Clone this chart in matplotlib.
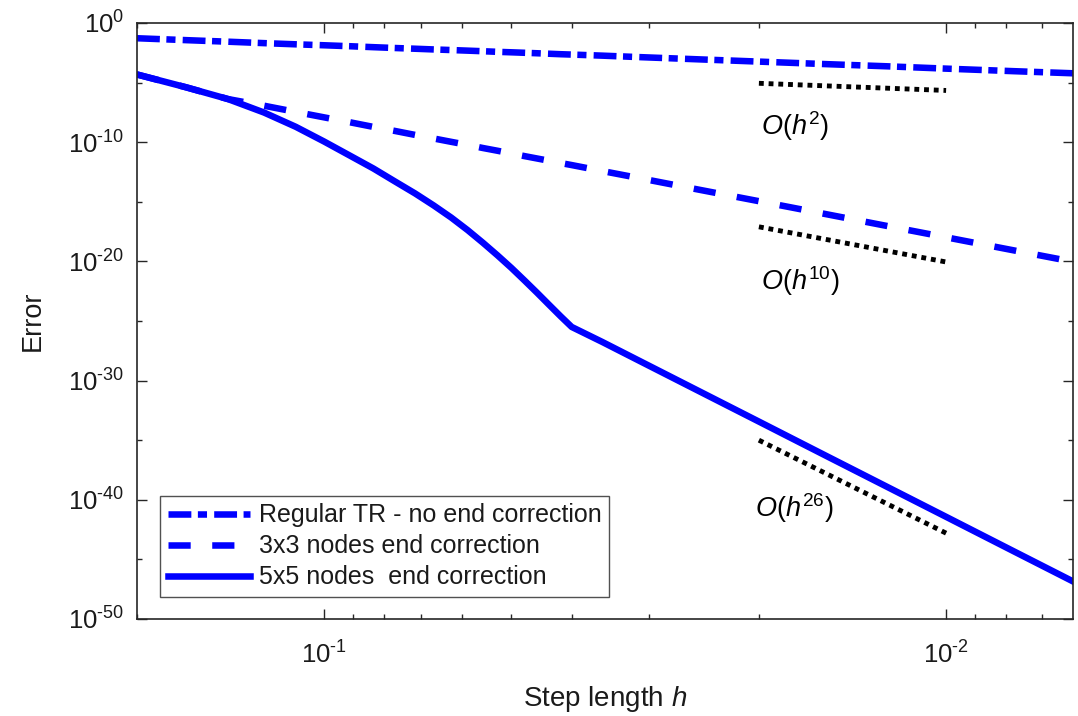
import matplotlib
matplotlib.use("Agg")
import matplotlib.pyplot as plt
import numpy as np
from matplotlib.ticker import FixedLocator, NullFormatter, FuncFormatter

plt.rcParams['font.family'] = ['Liberation Sans', 'DejaVu Sans']
plt.rcParams['mathtext.fontset'] = 'custom'
plt.rcParams['mathtext.rm'] = 'Liberation Sans'
plt.rcParams['mathtext.it'] = 'Liberation Sans:italic'
plt.rcParams['mathtext.bf'] = 'Liberation Sans:bold'

# ---- data ----
N_values = [5, 6, 7, 8, 9, 10, 11, 12, 13, 14, 15, 16, 17, 18, 19, 20, 21, 22, 23, 24, 25,
            28, 32, 40, 50, 64, 80, 100, 128, 160]
step_h = [1.0 / n for n in N_values]

# log10 of the error
regular_tr_log = [-1.28, -1.44, -1.57, -1.69, -1.79, -1.87, -1.95, -2.03, -2.10, -2.16, -2.22,
                  -2.27, -2.32, -2.37, -2.42, -2.46, -2.50, -2.54, -2.58, -2.62, -2.65,
                  -2.74, -2.86, -3.05, -3.24, -3.45, -3.63, -3.83, -4.04, -4.22]
nodes3_log = [-4.32, -5.40, -6.38, -6.94, -7.46, -7.92, -8.33, -8.72, -9.06, -9.39, -9.69,
              -9.97, -10.23, -10.49, -10.72, -10.95, -11.17, -11.37, -11.56, -11.75, -11.92,
              -12.42, -13.00, -13.98, -14.95, -16.03, -17.01, -17.98, -19.06, -20.03]
nodes5_log = [-4.32, -5.40, -6.38, -7.51, -8.71, -9.95, -11.13, -12.21, -13.30, -14.30, -15.31,
              -16.32, -17.37, -18.44, -19.50, -20.55, -21.61, -22.64, -23.65, -24.61, -25.50,
              -26.76, -28.30, -30.87, -33.44, -36.29, -38.86, -41.43, -44.28, -46.85]

# reference slope lines
ref_h = [0.02, 0.01]
ref_h2_log = [-5.06, -5.66]
ref_h10_log = [-17.1, -20.05]
ref_h26_log = [-35.0, -42.8]

legend_labels = ["Regular TR - no end correction", "3x3 nodes end correction", "5x5 nodes  end correction"]
order_labels = [r"$O(h^{2})$", r"$O(h^{10})$", r"$O(h^{26})$"]

y_major = [1e-50, 1e-40, 1e-30, 1e-20, 1e-10, 1e0]
y_minor = [1e-45, 1e-35, 1e-25, 1e-15, 1e-5]


def pow_label(v, pos=None):
    if v <= 0:
        return ""
    e = int(round(np.log10(v)))
    if e < 0:
        return r"$10^{\text{-}%d}$" % (-e)
    return r"$10^{%d}$" % e


# ---- figure ----
fig = plt.figure(figsize=(10.78, 7.16), dpi=100)
ax = fig.add_axes([0.1271, 0.1355, 0.8683, 0.8324])

blue = (0, 0, 1)
lw = 4.7
l1, = ax.loglog(step_h, 10.0 ** np.array(regular_tr_log), color=blue, lw=lw,
                linestyle=(0, (3.5, 1.0, 1.4, 1.1)), label=legend_labels[0])
l2, = ax.loglog(step_h, 10.0 ** np.array(nodes3_log), color=blue, lw=lw,
                linestyle=(0, (3.4, 3.3)), label=legend_labels[1])
l3, = ax.loglog(step_h, 10.0 ** np.array(nodes5_log), color=blue, lw=lw,
                linestyle='-', label=legend_labels[2])

for vals in (ref_h2_log, ref_h10_log, ref_h26_log):
    ax.loglog(ref_h, 10.0 ** np.array(vals), color='black', lw=3.5,
              linestyle=(0, (1.0, 1.0)))

ax.text(0.667, 0.812, order_labels[0], transform=ax.transAxes, fontsize=19.5,
        ha='left', va='baseline')
ax.text(0.667, 0.552, order_labels[1], transform=ax.transAxes, fontsize=19.5,
        ha='left', va='baseline')
ax.text(0.660, 0.1716, order_labels[2], transform=ax.transAxes, fontsize=19.5,
        ha='left', va='baseline')

ax.set_xlim(0.2, 1.0 / 160)
ax.set_ylim(1e-50, 1e0)

ax.yaxis.set_major_locator(FixedLocator(y_major))
ax.yaxis.set_minor_locator(FixedLocator(y_minor))
ax.yaxis.set_major_formatter(FuncFormatter(pow_label))
ax.yaxis.set_minor_formatter(NullFormatter())
ax.xaxis.set_major_formatter(FuncFormatter(pow_label))
ax.xaxis.set_minor_formatter(NullFormatter())

ax.tick_params(which='both', direction='in', top=True, right=True, colors='#262626',
               labelcolor='#1a1a1a', labelsize=18.5, width=1.0)
ax.tick_params(which='major', length=7)
ax.tick_params(which='minor', length=3.5)
ax.tick_params(axis='x', which='major', pad=16)
ax.tick_params(axis='y', which='major', pad=9)
for s in ax.spines.values():
    s.set_linewidth(1.2)
    s.set_color('#262626')

ax.set_xlabel(r"Step length $h$", fontsize=20, color='#1a1a1a', labelpad=11)
ax.set_ylabel("Error", fontsize=19.5, color='#1a1a1a', labelpad=16)

leg = ax.legend(handles=[l1, l2, l3], loc='lower left', bbox_to_anchor=(0.0246, 0.0369),
                fontsize=18, frameon=True, fancybox=False, shadow=False,
                handlelength=3.3, handletextpad=0.35, labelspacing=0.28,
                borderpad=0.3, borderaxespad=0.0)
leg.get_frame().set_edgecolor('#262626')
leg.get_frame().set_linewidth(1.0)
for t in leg.get_texts():
    t.set_color('#1a1a1a')

fig.savefig("out.png", dpi=100, facecolor='white')
